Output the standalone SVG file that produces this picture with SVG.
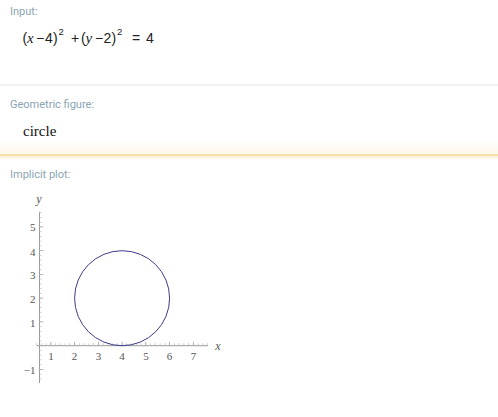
<svg xmlns="http://www.w3.org/2000/svg" width="498" height="417" viewBox="0 0 498 417">
<defs>
<style>
.lbl{font-family:Roboto,"Open Sans",sans-serif;font-size:11px;fill:#8aa5b5}
.eq{font-family:"Liberation Sans",sans-serif;font-size:14px;fill:#222}
.it{font-family:"Liberation Serif",serif;font-style:italic;font-size:15px}
.sup{font-size:9.5px}
.tick{font-family:"Liberation Serif",serif;font-size:11px;fill:#555}
.axl{font-family:"Liberation Serif",serif;font-style:italic;font-size:12px;fill:#555}
.ax{stroke:#9a9a9a;stroke-width:1;fill:none}
</style>
<linearGradient id="fadeDown" x1="0" y1="0" x2="0" y2="1">
<stop offset="0" stop-color="#fbefd3"/>
<stop offset="1" stop-color="#ffffff"/>
</linearGradient>
<linearGradient id="fadeUp" x1="0" y1="0" x2="0" y2="1">
<stop offset="0" stop-color="#ffffff"/>
<stop offset="1" stop-color="#fdf8ea"/>
</linearGradient>
</defs>
<rect width="498" height="417" fill="#ffffff"/>

<g id="input">
<text class="lbl" x="10" y="15">Input:</text>
<text class="eq" y="43"><tspan x="22.5">(</tspan><tspan class="it" x="27">x</tspan><tspan x="36">−</tspan><tspan x="45">4</tspan><tspan x="53">)</tspan><tspan class="sup" x="58.5" y="35">2</tspan><tspan x="71" y="43">+</tspan><tspan x="81">(</tspan><tspan class="it" x="85.5">y</tspan><tspan x="95">−</tspan><tspan x="103.5">2</tspan><tspan x="111.5">)</tspan><tspan class="sup" x="117" y="35">2</tspan><tspan x="132" y="43">=</tspan><tspan x="146">4</tspan></text>
</g>
<rect x="0" y="84.5" width="498" height="1" fill="#e3e3e3"/>

<g id="geometric">
<rect x="0" y="140" width="498" height="14" fill="url(#fadeUp)"/>
<text class="lbl" x="10" y="108">Geometric figure:</text>
<text x="23" y="136" font-family="'Liberation Serif',serif" font-size="15" fill="#111">circle</text>
</g>
<rect x="0" y="154" width="498" height="2" fill="#f6e1ae"/>
<rect x="0" y="156" width="498" height="4" fill="url(#fadeDown)"/>

<g id="plot">
<text class="lbl" x="10" y="178">Implicit plot:</text>
<!-- axes -->
<line class="ax" x1="36.6" y1="345.7" x2="208" y2="345.7"/>
<line class="ax" x1="39.5" y1="211.7" x2="39.5" y2="383"/>
<!-- minor ticks -->
<line x1="36.2" y1="344.2" x2="208" y2="344.2" stroke="#c2c2c2" stroke-width="2" stroke-dasharray="0.8 3.95"/>
<line x1="40.5" y1="379.35" x2="40.5" y2="212" stroke="#c2c2c2" stroke-width="2" stroke-dasharray="0.8 3.95"/>
<!-- major ticks -->
<line x1="50.45" y1="343.7" x2="200" y2="343.7" stroke="#a8a8a8" stroke-width="4" stroke-dasharray="0.8 22.95"/>
<line x1="41.5" y1="369.85" x2="41.5" y2="220" stroke="#a8a8a8" stroke-width="4" stroke-dasharray="0.8 22.95"/>
<!-- tick labels -->
<g class="tick" text-anchor="middle">
<text x="50.9" y="360">1</text>
<text x="74.6" y="360">2</text>
<text x="98.4" y="360">3</text>
<text x="122.1" y="360">4</text>
<text x="145.9" y="360">5</text>
<text x="169.6" y="360">6</text>
<text x="193.4" y="360">7</text>
</g>
<g class="tick" text-anchor="end">
<text x="35.5" y="231.3">5</text>
<text x="35.5" y="255.5">4</text>
<text x="35.5" y="279.2">3</text>
<text x="35.5" y="302.9">2</text>
<text x="35.5" y="326.7">1</text>
<text x="35.5" y="374.2">−1</text>
</g>
<text class="axl" x="39" y="203" text-anchor="middle">y</text>
<text class="axl" x="218" y="350" text-anchor="middle">x</text>
<circle cx="122.1" cy="298.2" r="47.5" fill="none" stroke="#3c3c8c" stroke-width="1"/>
</g>
</svg>
